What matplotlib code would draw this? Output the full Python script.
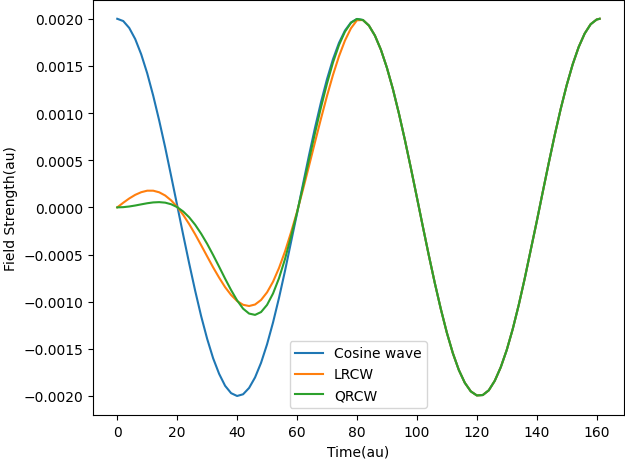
import matplotlib
matplotlib.use('Agg')
import matplotlib.pyplot as plt

# time samples (au)
time = list(range(0, 161, 2)) + [161]

# cosine wave
cosine = [
    0.002000, 0.001976, 0.001903, 0.001785, 0.001623, 0.001422, 0.001185, 0.000921,
    0.000636, 0.000331, 0.000022, -0.000290, -0.000593, -0.000883, -0.001153, -0.001393,
    -0.001600, -0.001765, -0.001892, -0.001970, -0.002000, -0.001982, -0.001915, -0.001803,
    -0.001648, -0.001452, -0.001220, -0.000958, -0.000672, -0.000368, -0.000065, 0.000247,
    0.000552, 0.000844, 0.001115, 0.001359, 0.001571, 0.001744, 0.001875, 0.001961,
    0.001998, 0.001987, 0.001928, 0.001822, 0.001672, 0.001481, 0.001255, 0.000997,
    0.000716, 0.000417, 0.000108, -0.000204, -0.000510, -0.000804, -0.001078, -0.001328,
    -0.001545, -0.001724, -0.001860, -0.001951, -0.001994, -0.001990, -0.001940, -0.001839,
    -0.001695, -0.001512, -0.001290, -0.001035, -0.000754, -0.000452, -0.000151, 0.000161,
    0.000468, 0.000765, 0.001043, 0.001295, 0.001516, 0.001700, 0.001843, 0.001942,
    0.001992, 0.002000,
]

# ramped parts (t = 0..80); after the ramp both follow the cosine wave
lrcw_ramp = [
    0.0, 0.0000491, 0.0000945, 0.000133, 0.000161, 0.000177, 0.000177, 0.000160,
    0.000126, 0.0000740, 0.0000055, -0.0000792, -0.000177, -0.000285, -0.000401, -0.000519,
    -0.000636, -0.000745, -0.000846, -0.000929, -0.000993, -0.001033, -0.001046, -0.001030,
    -0.000982, -0.000901, -0.000788, -0.000642, -0.000467, -0.000265, -0.0000484, 0.000190,
    0.000439, 0.000692, 0.000941, 0.001181, 0.001404, 0.001602, 0.001769, 0.001899,
    0.001984,
]
qrcw_ramp = [
    0.0, 0.0000024, 0.0000094, 0.0000198, 0.0000320, 0.0000438, 0.0000526, 0.0000556,
    0.0000502, 0.0000331, 0.0000027, -0.0000433, -0.000105, -0.000184, -0.000279, -0.000386,
    -0.000505, -0.000629, -0.000756, -0.000877, -0.000986, -0.001074, -0.001126, -0.001140,
    -0.001110, -0.001034, -0.000913, -0.000750, -0.000547, -0.000310, -0.0000565, 0.000221,
    0.000505, 0.000789, 0.001061, 0.001312, 0.001536, 0.001721, 0.001863, 0.001957,
    0.001998,
]

n = len(lrcw_ramp)
lrcw = lrcw_ramp + cosine[n:]
qrcw = qrcw_ramp + cosine[n:]

fig = plt.figure(figsize=(6.25, 4.6), dpi=100)
ax = fig.add_subplot(111)
fig.subplots_adjust(left=0.149, right=0.998, top=0.998, bottom=0.096)

ax.plot(time, cosine, label='Cosine wave')
ax.plot(time, lrcw, label='LRCW')
ax.plot(time, qrcw, label='QRCW')

ax.set_xlabel('Time(au)')
ax.set_ylabel('Field Strength(au)')
ax.legend(loc='lower center')

fig.savefig('out.png')
